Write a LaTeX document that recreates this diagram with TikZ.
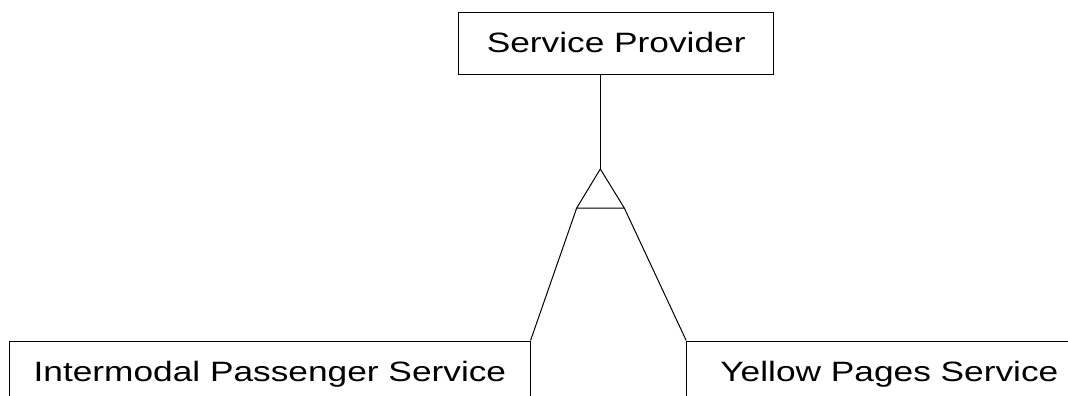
\documentclass[tikz,border=0pt]{standalone}
\usepackage{fontspec}
\setmainfont{Liberation Sans}[FakeStretch=1.26]
\usetikzlibrary{calc}
\tikzset{entity/.style={draw, rectangle, line width=1pt, inner sep=0pt, minimum height=62pt, text height=20pt, text depth=2pt, font=\fontsize{28}{33}\selectfont}}

\begin{document}
\begin{tikzpicture}[x=1pt, y=-1pt, line width=1pt]
		%%%%% START %%%%%
		
		\useasboundingbox (0, 0) rectangle (1068, 396);
		\clip (0, 0) rectangle (1068, 396);
		
		\node[entity, minimum width=315pt] (provider) at (616.2, 43.2) {Service Provider};
		\node[entity, minimum width=520.3pt] (intermodal) at (269.9, 372) {Intermodal Passenger Service};
		\node[entity, minimum width=405.4pt] (yellow) at (889.4, 372) {Yellow Pages Service};
		
		\coordinate (apex) at (600.3, 169);
		\coordinate (baseleft) at (576.7, 208);
		\coordinate (baseright) at (624.3, 208);
		
		\draw (apex |- provider.south) -- (apex);
		\draw (apex) -- (baseleft) -- (baseright) -- cycle;
		\draw (baseleft) -- (intermodal.north east);
		\draw (baseright) -- (yellow.north west);
		
		%%%%% END %%%%%
	\end{tikzpicture}
\end{document}
